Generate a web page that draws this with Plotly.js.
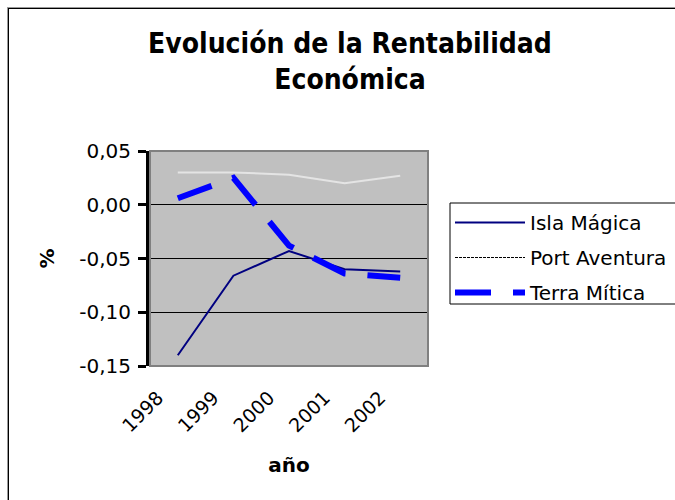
<!DOCTYPE html>
<html>
<head>
<meta charset="utf-8">
<script src="https://cdn.plot.ly/plotly-3.0.1.min.js"></script>
<style>
  html, body { margin: 0; padding: 0; background: #fff; }
  #wrap { position: relative; width: 675px; height: 500px; overflow: hidden; }
  #chart { position: absolute; left: 0; top: 0; width: 675px; height: 500px; }
  #frame { position: absolute; left: 8px; top: 8px; width: 700px; height: 520px;
           border-left: 1px solid #000; border-top: 1px solid #000;
           box-shadow: -1px -1px 0 #999; pointer-events: none; }
</style>
</head>
<body>
<div id="wrap">
  <div id="chart"></div>
  <div id="frame"></div>
</div>
<script>
// ---- data ----
const years = ['1998', '1999', '2000', '2001', '2002'];
const islaMagica = [-0.140, -0.066, -0.043, -0.060, -0.062];
const portAventura = [0.030, 0.030, 0.028, 0.020, 0.027];
const terraMitica = [0.006, 0.025, -0.038, -0.064, -0.068];
const seriesNames = ['Isla Mágica', 'Port Aventura', 'Terra Mítica'];
const yTicks = [0.05, 0.00, -0.05, -0.10, -0.15];
const yTickText = yTicks.map(v => v.toFixed(2).replace('.', ','));

const FONT = 'DejaVu Sans, Arial, sans-serif';
const TITLE_FONT = 'DejaVu Sans Condensed, DejaVu Sans, Arial, sans-serif';

const traces = [
  {
    type: 'scatter', mode: 'lines', name: seriesNames[0],
    x: years, y: islaMagica, legendgroup: 'a', legendrank: 1,
    line: { color: '#000080', width: 2 }
  },
  {
    type: 'scatter', mode: 'lines', name: seriesNames[1],
    x: years, y: portAventura, showlegend: false, legendgroup: 'b',
    line: { color: '#e4e4e4', width: 2 }
  },
  {
    // legend entry for Port Aventura (as drawn in the reference legend)
    type: 'scatter', mode: 'lines', name: seriesNames[1],
    x: [null], y: [null], legendgroup: 'b', legendrank: 2,
    line: { color: '#000', width: 1, dash: '3px,1px' }, hoverinfo: 'skip'
  },
  {
    type: 'scatter', mode: 'lines', name: seriesNames[2],
    x: years, y: terraMitica, legendgroup: 'c', legendrank: 3,
    line: { color: '#0000ff', width: 6, dash: '36px,22px' }
  }
];

const layout = {
  width: 675, height: 500,
  margin: { l: 150, r: 247, t: 151, b: 134 },
  paper_bgcolor: '#ffffff',
  plot_bgcolor: '#c0c0c0',
  separators: ',.',
  font: { family: FONT, color: '#000', size: 20 },
  title: {
    text: 'Evolución de la Rentabilidad<br>Económica',
    font: { family: TITLE_FONT, size: 28, weight: 'bold', color: '#000' },
    xref: 'container', yref: 'container',
    x: 0.5185, xanchor: 'center', y: 0.894, yanchor: 'top'
  },
  xaxis: {
    type: 'category',
    range: [-0.5, 4.5],
    tickvals: years, ticktext: years,
    tickangle: -45,
    ticks: '', showgrid: false, zeroline: false,
    showline: false,
    tickfont: { family: FONT, size: 19 },
    ticklabelshift: -20, ticklabelstandoff: 16,
    title: { text: 'año', font: { family: FONT, size: 20, weight: 'bold' }, standoff: 22 }
  },
  yaxis: {
    range: [-0.15, 0.05],
    tickvals: yTicks, ticktext: yTickText,
    showgrid: true, gridcolor: '#000', gridwidth: 1,
    zeroline: false,
    showline: true, linecolor: '#000', linewidth: 4,
    ticks: 'outside', ticklen: 8, tickwidth: 3, tickcolor: '#000',
    tickfont: { family: FONT, size: 20 },
    ticklabelstandoff: 3,
    title: { text: '%', font: { family: FONT, size: 20, weight: 'bold' }, standoff: 20 }
  },
  shapes: [
    { type: 'rect', xref: 'paper', yref: 'paper', x0: 0, x1: 1, y0: 0, y1: 1,
      line: { color: '#808080', width: 2 }, fillcolor: 'rgba(0,0,0,0)', layer: 'above' },
    // legend frame, running off the right edge as in the reference
    { type: 'rect', xref: 'paper', yref: 'paper',
      x0: (450 - 150) / 278, x1: (720 - 150) / 278,
      y0: (366 - 304) / 215, y1: (366 - 203) / 215,
      line: { color: '#000', width: 1 }, fillcolor: '#ffffff', layer: 'above' }
  ],
  legend: {
    xref: 'container', yref: 'container',
    x: 450 / 675, xanchor: 'left',
    y: 1 - 203 / 500, yanchor: 'top',
    bgcolor: 'rgba(0,0,0,0)', borderwidth: 0,
    font: { family: FONT, size: 20, color: '#000' },
    itemwidth: 70,
    tracegroupgap: 6,
    traceorder: 'grouped'
  },
  showlegend: true
};

Plotly.newPlot('chart', traces, layout, { displayModeBar: false, staticPlot: true });
</script>
</body>
</html>
